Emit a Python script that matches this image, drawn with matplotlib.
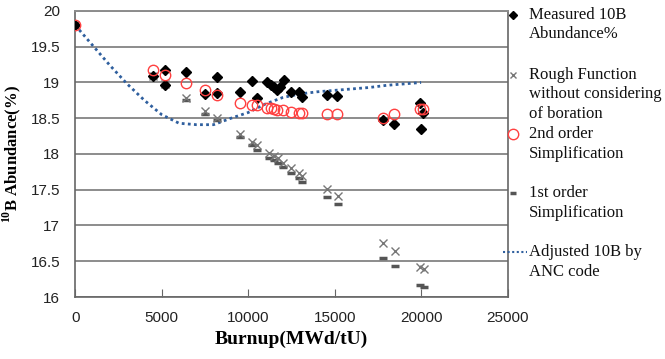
import matplotlib
matplotlib.use('Agg')
import matplotlib.pyplot as plt
from matplotlib.lines import Line2D

# Measured 10B abundance (%)
meas_burnup = [0, 4500, 5200, 5200, 6400, 7500, 8200, 8200, 9500, 10200, 10500,
               11100, 11300, 11500, 11650, 11850, 12050, 12500, 12950, 13100,
               14550, 15150, 17800, 18450, 19950, 20100, 19980]
meas_b10 = [19.80, 19.09, 19.17, 18.97, 19.15, 18.84, 19.07, 18.85, 18.86, 19.02, 18.78,
            19.01, 18.97, 18.93, 18.90, 18.94, 19.03, 18.86, 18.86, 18.80,
            18.83, 18.81, 18.47, 18.42, 18.72, 18.57, 18.35]

# Rough function without considering of boration
rough_burnup = [0, 4500, 5200, 6400, 7500, 8200, 9500, 10200, 10500, 11200, 11500,
                11700, 12000, 12500, 12950, 13100, 14550, 15200, 17800, 18500,
                19950, 20150]
rough_b10 = [19.80, 19.09, 18.98, 18.79, 18.60, 18.51, 18.28, 18.17, 18.12, 18.02, 17.97,
             17.94, 17.88, 17.80, 17.73, 17.69, 17.51, 17.41, 16.75, 16.64,
             16.42, 16.39]

# 1st order simplification
first_b10 = [19.80, 19.08, 18.96, 18.76, 18.56, 18.47, 18.24, 18.12, 18.06, 17.95, 17.92,
             17.88, 17.82, 17.73, 17.67, 17.61, 17.40, 17.30, 16.55, 16.43,
             16.17, 16.14]

# 2nd order simplification
second_burnup = [0, 4500, 5200, 6400, 7500, 8200, 9500, 10200, 10500, 11100, 11300,
                 11500, 11650, 12000, 12500, 12950, 13100, 14550, 15150, 17800,
                 18450, 19950, 20100]
second_b10 = [19.80, 19.17, 19.10, 18.99, 18.89, 18.83, 18.72, 18.69, 18.68, 18.65, 18.64,
              18.63, 18.62, 18.62, 18.59, 18.57, 18.57, 18.56, 18.56, 18.51,
              18.56, 18.63, 18.63]

# Adjusted 10B by ANC code
anc_burnup = [0, 1000, 2000, 3000, 4000, 5000, 6000, 7000, 8000, 9000, 10000,
              11000, 12000, 13000, 14000, 15000, 16000, 17000, 18000, 19000, 20000]
anc_b10 = [19.80, 19.52, 19.24, 18.98, 18.75, 18.55, 18.43, 18.41, 18.41, 18.50, 18.58,
           18.70, 18.79, 18.84, 18.87, 18.89, 18.91, 18.93, 18.96, 18.98, 19.00]

legend_labels = ['Measured 10B\nAbundance%',
                 'Rough Function\nwithout considering\nof boration',
                 '2nd order\nSimplification',
                 '1st order\nSimplification',
                 'Adjusted 10B by\nANC code']

plt.rcParams['mathtext.fontset'] = 'custom'
plt.rcParams['mathtext.rm'] = 'Liberation Serif:bold'
plt.rcParams['mathtext.bf'] = 'Liberation Serif:bold'

fig = plt.figure(figsize=(6.65, 3.59), dpi=100)
ax = fig.add_axes([0.1132, 0.1727, 0.65, 0.7967])

grid_c = '#8c8c8c'
ax.set_xlim(0, 25000)
ax.set_ylim(16, 20)
ax.set_yticks([16 + 0.5 * i for i in range(9)])
ax.set_xticks([0, 5000, 10000, 15000, 20000, 25000])
ax.set_yticklabels(['16', '16.5', '17', '17.5', '18', '18.5', '19', '19.5', '20'])
ax.yaxis.grid(True, color=grid_c, linewidth=1.4)
ax.set_axisbelow(True)
for side in ['left', 'bottom', 'right']:
    ax.spines[side].set_color('#666666')
    ax.spines[side].set_linewidth(1.2)
ax.spines['top'].set_color(grid_c)
ax.spines['top'].set_linewidth(1.4)
ax.tick_params(axis='x', direction='in', length=6, color='#666666', pad=10)
ax.tick_params(axis='y', length=0, pad=11)
for lab in ax.get_xticklabels() + ax.get_yticklabels():
    lab.set_fontfamily('Liberation Sans')
    lab.set_fontsize(11)
    lab.set_color('#222222')

ax.plot(anc_burnup, anc_b10, linestyle=(0, (1, 1.2)), color='#2f5f9e', linewidth=2.0,
        zorder=2)
ax.plot(rough_burnup, first_b10, linestyle='none', marker='_', markersize=6,
        markeredgewidth=2.5, color='#555555', zorder=3)
ax.plot(rough_burnup, rough_b10, linestyle='none', marker='x', markersize=6,
        markeredgewidth=1.0, color='#777777', zorder=3)
ax.plot(meas_burnup, meas_b10, linestyle='none', marker='D', markersize=5.5,
        color='black', zorder=4)
ax.plot(second_burnup, second_b10, linestyle='none', marker='o', markersize=7.5,
        markerfacecolor='none', markeredgecolor='#ff4040', markeredgewidth=1.0,
        zorder=5)

ax.set_xlabel('Burnup(MWd/tU)', fontfamily='Liberation Serif', fontweight='bold',
              fontsize=14, labelpad=4)
ax.set_ylabel(r'$^{10}$B Abundance(%)', fontfamily='Liberation Serif',
              fontweight='bold', fontsize=12)
ax.yaxis.set_label_coords(-0.12, 0.5)

# Legend drawn by hand so that each symbol sits on the first text line
W, H = 665.0, 359.0
line_h = 19.5
entry_top = [15, 75, 134, 193, 252]
for lab, y0, k in zip(legend_labels, entry_top, range(5)):
    yf = 1 - y0 / H
    for j, txt in enumerate(lab.split('\n')):
        fig.text(529 / W, 1 - (y0 + j * line_h) / H, txt, fontfamily='Liberation Serif',
                 fontsize=12, va='center', ha='left', color='#111111')
    if k == 0:
        fig.add_artist(Line2D([513 / W], [yf], marker='D', markersize=4.5, color='black',
                              linestyle='none'))
    elif k == 1:
        fig.add_artist(Line2D([513 / W], [yf], marker='x', markersize=5, color='#777777',
                              markeredgewidth=1.0, linestyle='none'))
    elif k == 2:
        fig.add_artist(Line2D([513 / W], [yf], marker='o', markersize=7.5,
                              markerfacecolor='none', markeredgecolor='#ff4040',
                              linestyle='none'))
    elif k == 3:
        fig.add_artist(Line2D([513 / W], [yf], marker='_', markersize=5,
                              markeredgewidth=2.5, color='#555555', linestyle='none'))
    else:
        fig.add_artist(Line2D([503 / W, 527 / W], [yf, yf], linestyle=(0, (1, 1.2)),
                              color='#2f5f9e', linewidth=1.5))

fig.savefig('out.png', dpi=100)
